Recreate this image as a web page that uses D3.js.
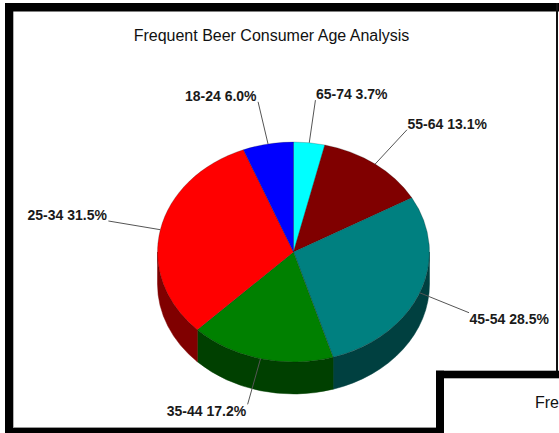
<!DOCTYPE html>
<html>
<head>
<meta charset="utf-8">
<script src="https://cdn.jsdelivr.net/npm/d3@7"></script>
<style>
  html, body { margin: 0; padding: 0; background: #fff; }
  svg { display: block; }
  text { font-family: "Liberation Sans", Arial, sans-serif; }
</style>
</head>
<body>
<svg id="chart" width="559" height="433"></svg>
<script>
// ---- data ----
const categories = ["65-74", "55-64", "45-54", "35-44", "25-34", "18-24"];
const values = [3.7, 13.1, 28.5, 17.2, 31.5, 6.0];
const topColors = ["#00FFFF", "#800000", "#008080", "#008000", "#FF0000", "#0000FF"];
const sideColors = ["#008080", "#400000", "#004040", "#004000", "#800000", "#000080"];
const title = "Frequent Beer Consumer Age Analysis";

// ---- layout ----
const W = 559, H = 433;
const cx = 293.5, cy = 252, rx = 136, ry = 110, depth = 32;
const labelK = 1.39;

const svg = d3.select("#chart");

// frames
const frame = svg.append("g");
frame.append("rect").attr("x", 5).attr("y", 3).attr("width", W - 5).attr("height", 8.5).attr("fill", "#000");
frame.append("rect").attr("x", 5).attr("y", 3).attr("width", 8.3).attr("height", H - 3).attr("fill", "#000");
frame.append("rect").attr("x", 556).attr("y", 3).attr("width", 2).attr("height", 368).attr("fill", "#111");
frame.append("rect").attr("x", 13).attr("y", 427).attr("width", 423).attr("height", 1).attr("fill", "#999");
frame.append("rect").attr("x", 5).attr("y", 428).attr("width", 431).attr("height", 5).attr("fill", "#000");
// second overlapping window
frame.append("rect").attr("x", 436).attr("y", 371).attr("width", W - 436).attr("height", H - 371).attr("fill", "#fff");
frame.append("rect").attr("x", 436).attr("y", 370.7).attr("width", W - 436).attr("height", 7.6).attr("fill", "#000");
frame.append("rect").attr("x", 436).attr("y", 370.7).attr("width", 8).attr("height", H - 370.7).attr("fill", "#000");
frame.append("text").attr("x", 535).attr("y", 408).attr("font-size", 16).attr("fill", "#111").text("Fre");

// title
svg.append("text")
  .attr("x", 271.5).attr("y", 41)
  .attr("text-anchor", "middle")
  .attr("font-size", 16)
  .attr("fill", "#111")
  .text(title);

// pie layout
const data = categories.map((c, i) => ({ cat: c, value: values[i], i }));
const arcs = d3.pie().sort(null).value(d => d.value).startAngle(0).endAngle(2 * Math.PI)(data);
const topColor = d3.scaleOrdinal().domain(categories).range(topColors);
const sideColor = d3.scaleOrdinal().domain(categories).range(sideColors);

const pt = (a, k = 1, dy = 0) => [cx + k * rx * Math.sin(a), cy - k * ry * Math.cos(a) + dy];

// side faces (front half only: angles PI/2 .. 3PI/2)
const sides = svg.append("g");
arcs.forEach(a => {
  const s = Math.max(a.startAngle, Math.PI / 2);
  const e = Math.min(a.endAngle, 3 * Math.PI / 2);
  if (s >= e) return;
  const p0 = pt(s), p1 = pt(e);
  const p = d3.path();
  p.moveTo(p0[0], p0[1]);
  const d = `M${p0[0]},${p0[1]} A${rx},${ry} 0 0 1 ${p1[0]},${p1[1]} L${p1[0]},${p1[1] + depth} A${rx},${ry} 0 0 0 ${p0[0]},${p0[1] + depth} Z`;
  sides.append("path").attr("d", d).attr("fill", sideColor(a.data.cat))
    .attr("stroke", sideColor(a.data.cat)).attr("stroke-width", 0.5);
});

// top faces
const tops = svg.append("g");
arcs.forEach(a => {
  const p0 = pt(a.startAngle), p1 = pt(a.endAngle);
  const large = (a.endAngle - a.startAngle) > Math.PI ? 1 : 0;
  const d = `M${cx},${cy} L${p0[0]},${p0[1]} A${rx},${ry} 0 ${large} 1 ${p1[0]},${p1[1]} Z`;
  tops.append("path").attr("d", d).attr("fill", topColor(a.data.cat))
    .attr("stroke", "rgba(0,0,0,0.35)").attr("stroke-width", 0.6).attr("stroke-linejoin", "round");
});

// leader lines + labels
const labels = svg.append("g");
arcs.forEach(a => {
  const m = (a.startAngle + a.endAngle) / 2;
  const lower = Math.cos(m) < 0;
  const p0 = pt(m);
  const q = pt(m, labelK, lower ? 4 : 0);
  labels.append("line")
    .attr("x1", p0[0]).attr("y1", p0[1]).attr("x2", q[0]).attr("y2", q[1])
    .attr("stroke", "#555").attr("stroke-width", 1);
  const left = Math.sin(m) < 0;
  labels.append("text")
    .attr("x", left ? q[0] - 1.5 : q[0] + 0.5)
    .attr("y", lower ? q[1] + 11.5 : q[1] - 1)
    .attr("text-anchor", left ? "end" : "start")
    .attr("font-size", 14)
    .attr("font-weight", "bold")
    .attr("fill", "#1a1a1a")
    .text(`${a.data.cat} ${a.data.value.toFixed(1)}%`);
});
</script>
</body>
</html>
